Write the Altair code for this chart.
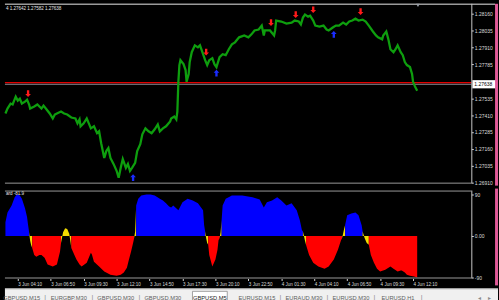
import altair as alt
import pandas as pd

# ------------------------------------------------------------------ data
HEADER_TEXT = "4 1.27642 1.27582 1.27638"
IND_TEXT = "ard -81.9"
BID = 1.27638
ASK = 1.27650

PRICE_TICKS = [1.26910, 1.27035, 1.27160, 1.27285, 1.27410, 1.27535,
               1.27785, 1.27910, 1.28035, 1.28160]
TIME_LABELS = ["3 Jun 04:10", "3 Jun 06:50", "3 Jun 09:30", "3 Jun 12:10",
               "3 Jun 14:50", "3 Jun 17:30", "3 Jun 20:10", "3 Jun 22:50",
               "4 Jun 01:30", "4 Jun 04:10", "4 Jun 06:50", "4 Jun 09:30",
               "4 Jun 12:10"]
FIRST_BAR = "3 Jun 03:10"      # time of bar 0 (M5 bars)
BAR_MINUTES = 5
IND_TICKS = [-90, 0, 90]
IND_TICK_LABELS = ["-90", "0.00", "90"]

PRICE_BARS = [0, 2, 5, 7, 10, 12, 14, 16, 19, 21, 23, 24, 28, 31, 35, 37, 40,
              43, 46, 48, 50, 54, 57, 60, 64, 68, 70, 72, 73, 76, 79, 81, 83,
              86, 89, 91, 93, 96, 98, 100, 102, 105, 108, 110, 112, 114, 117,
              119, 121, 123, 126, 128, 131, 133, 136, 139, 142, 145, 148, 150,
              153, 156, 160, 161, 164, 166, 167, 168, 169, 170, 173, 175, 176,
              178, 179, 181, 184, 187, 189, 192, 194, 196, 198, 201, 203, 205,
              208, 211, 214, 217, 220, 223, 227, 232, 236, 239, 242, 246, 249,
              251, 252, 257, 261, 262, 263, 268, 273, 278, 281, 285, 287, 289,
              291, 294, 296, 299, 301, 305, 309, 312, 314, 318, 321, 324, 328,
              331, 334, 337, 340, 343, 347, 350, 353, 357, 360, 362, 366, 367,
              370, 372, 374, 377, 379, 381, 384, 386, 388, 390, 393, 395, 396,
              398, 400]
PRICES = [1.27422, 1.27458, 1.27495, 1.27488, 1.27546, 1.27517, 1.27531,
          1.27495, 1.27509, 1.27524, 1.27488, 1.27458, 1.27473, 1.27488,
          1.27458, 1.27480, 1.27451, 1.27422, 1.27385, 1.27414, 1.27422,
          1.27436, 1.27422, 1.27414, 1.27392, 1.27385, 1.27349, 1.27378,
          1.27327, 1.27349, 1.27385, 1.27349, 1.27312, 1.27327, 1.27276,
          1.27290, 1.27202, 1.27093, 1.27144, 1.27166, 1.27093, 1.27049,
          1.26998, 1.26947, 1.27020, 1.27085, 1.27020, 1.27049, 1.26998,
          1.27020, 1.27056, 1.27144, 1.27195, 1.27268, 1.27312, 1.27290,
          1.27276, 1.27305, 1.27341, 1.27290, 1.27312, 1.27327, 1.27363,
          1.27385, 1.27400, 1.27378, 1.27436, 1.27656, 1.27780, 1.27816,
          1.27787, 1.27743, 1.27656, 1.27714, 1.27802, 1.27875, 1.27926,
          1.27911, 1.27926, 1.27860, 1.27816, 1.27780, 1.27816, 1.27831,
          1.27787, 1.27765, 1.27838, 1.27860, 1.27853, 1.27897, 1.27933,
          1.27948, 1.27985, 1.27999, 1.27985, 1.28007, 1.28036, 1.28043,
          1.28072, 1.27999, 1.28036, 1.28036, 1.27999, 1.28036, 1.28109,
          1.28102, 1.28087, 1.28094, 1.28109, 1.28102, 1.28080, 1.28131,
          1.28153, 1.28138, 1.28145, 1.28109, 1.28072, 1.28065, 1.28072,
          1.28043, 1.28036, 1.28058, 1.28072, 1.28072, 1.28094, 1.28080,
          1.28102, 1.28109, 1.28123, 1.28109, 1.28116, 1.28102, 1.28072,
          1.28028, 1.27999, 1.27985, 1.27970, 1.27999, 1.28028, 1.27970,
          1.27897, 1.27875, 1.27897, 1.27926, 1.27875, 1.27853, 1.27802,
          1.27780, 1.27765, 1.27714, 1.27656, 1.27619, 1.27590]

SELL_BARS = [22, 195, 258, 282, 299, 345]
SELL_PRICES = [1.27568, 1.27875, 1.28094, 1.28153, 1.28189, 1.28175]
BUY_BARS = [124, 205, 319]
BUY_PRICES = [1.26947, 1.27721, 1.28007]

HIST_BARS = [0, 2, 6, 9, 11, 14, 16, 19, 21, 22,
             23, 24, 25,
             26, 28, 30, 33, 35, 38, 41, 46, 50, 53,
             54, 56, 58, 60, 62, 63,
             64, 67, 69, 72, 74, 79, 83, 84, 86, 91, 96, 102, 108, 112, 115, 118, 120, 122, 124,
             125, 126,
             127, 129, 132, 137, 141, 145, 150, 153, 156, 159, 161, 163, 168, 172, 177, 182, 187, 192, 193,
             194, 195, 196,
             197, 198, 201, 204, 206, 207,
             208, 209,
             210, 211, 214, 220, 230, 240, 247, 251, 254, 259, 264, 268, 273, 278, 283, 286, 288,
             289, 290, 291,
             292, 295, 299, 304, 310, 314, 319, 323, 326,
             327, 328, 329,
             330, 332, 336, 340, 343, 346,
             347, 349, 351,
             353, 355, 358, 361, 364, 369, 374, 377, 381, 384, 385, 388, 390, 393, 397, 400]
HIST_VALUES = [30, 51, 66, 84, 90, 88, 81, 60, 41, 24,
               8, -10, -20,
               -26, -41, -45, -41, -41, -47, -62, -66, -62, -34,
               -15, 8, 17, 15, 5, -10,
               -26, -41, -51, -62, -66, -58, -36, -40, -56, -66, -77, -84, -86, -84, -79, -69, -51, -34, -15,
               -5, 10,
               66, 81, 88, 90, 90, 88, 81, 77, 71, 64, 62, 66, 56, 73, 81, 77, 71, 56, 24,
               10, -5, -15,
               -19, -41, -66, -51, -30, -9,
               -5, 8,
               34, 66, 81, 88, 88, 84, 79, 62, 73, 77, 84, 77, 66, 71, 56, 34, 13,
               10, 0, -10,
               -19, -41, -58, -66, -71, -66, -51, -30, -9,
               -5, 5, 15,
               24, 45, 49, 51, 45, 24,
               10, -5, -15,
               -19, -41, -58, -71, -77, -73, -66, -71, -77, -75, -75, -79, -84, -86, -88, -90]
HIST_STATE = (["up"] * 10 + ["flat"] * 3 + ["down"] * 10 + ["flat"] * 6 +
              ["down"] * 19 + ["flat"] * 2 + ["up"] * 19 + ["flat"] * 3 +
              ["down"] * 6 + ["flat"] * 2 + ["up"] * 17 + ["flat"] * 3 +
              ["down"] * 9 + ["flat"] * 3 + ["up"] * 6 + ["flat"] * 3 +
              ["down"] * 16)

TABS = ["GBPUSD,M15", "EURGBP,M30", "GBPUSD,M30", "GBPUSD,M30", "GBPUSD,M5",
        "EURUSD,M15", "EURAUD,M30", "EURUSD,M30", "EURUSD,H1"]
ACTIVE_TAB = 4

# ------------------------------------------------------------------ style
FONT = "Liberation Sans"
GREEN = "#0e9e0e"
STATE_COLORS = {"up": "#0000ff", "down": "#ff0000", "flat": "#f2dc00"}
BORDER = "#9a9a9a"
W = 472
H_MAIN = 182
H_IND = 89
X_DOMAIN = [-0.48, 452.6]


def bar_of(label):
    d, _, hm = label.split(" ")
    h, m = hm.split(":")
    return int(d) * 1440 + int(h) * 60 + int(m)


base = bar_of(FIRST_BAR)
TIME_BARS = [(bar_of(t) - base) // BAR_MINUTES for t in TIME_LABELS]

axis_style = dict(domain=False, grid=False, tickColor="#d8d8d8", tickSize=2,
                  labelColor="#dcdcdc", labelFont=FONT, labelFontSize=5,
                  labelPadding=1, title=None, labelOverlap=False,
                  labelFlush=False)

x_main = alt.X("bar:Q", scale=alt.Scale(domain=X_DOMAIN, nice=False, zero=False), axis=None)
y_main = alt.Y("price:Q",
               scale=alt.Scale(domain=[1.26903, 1.28233], nice=False, zero=False),
               axis=alt.Axis(orient="right", values=PRICE_TICKS, format=".5f", **axis_style))

DOWN_ARROW = "M-0.35,-1L0.35,-1L0.35,0.1L0.85,0.1L0,1L-0.85,0.1L-0.35,0.1Z"
UP_ARROW = "M-0.35,1L0.35,1L0.35,-0.1L0.85,-0.1L0,-1L-0.85,-0.1L-0.35,-0.1Z"
LABEL_BOX = "M-1,-0.32L1,-0.32L1,0.32L-1,0.32Z"

one = pd.DataFrame({"k": [0]})

price_df = pd.DataFrame({"bar": PRICE_BARS, "price": PRICES})
sell_df = pd.DataFrame({"bar": SELL_BARS, "price": SELL_PRICES})
buy_df = pd.DataFrame({"bar": BUY_BARS, "price": BUY_PRICES})
lines_df = pd.DataFrame({"price": [BID, ASK], "c": ["#8a8f9a", "#e00000"]})
bid_df = pd.DataFrame({"price": [BID]})
head_df = pd.DataFrame({"t": [HEADER_TEXT]})

price_line = alt.Chart(price_df).mark_line(color=GREEN, strokeWidth=2.3).encode(x=x_main, y=y_main)
price_rules = alt.Chart(lines_df).mark_rule(strokeWidth=1.2).encode(
    y=y_main, color=alt.Color("c:N", scale=None))
sells = alt.Chart(sell_df).mark_point(shape=DOWN_ARROW, filled=True, size=46,
                                      color="#ff1a1a", opacity=1).encode(x=x_main, y=y_main)
buys = alt.Chart(buy_df).mark_point(shape=UP_ARROW, filled=True, size=46,
                                    color="#1a2cff", opacity=1).encode(x=x_main, y=y_main)
bid_box = alt.Chart(bid_df).mark_point(shape=LABEL_BOX, filled=True, size=676,
                                       color="#ffffff", opacity=1).encode(
    x=alt.value(486), y=y_main)
bid_text = alt.Chart(bid_df).mark_text(align="left", baseline="middle", fontSize=5,
                                       font=FONT, color="#000000").encode(
    x=alt.value(475), y=y_main, text=alt.Text("price:Q", format=".5f"))
header = alt.Chart(head_df).mark_text(align="left", baseline="middle", fontSize=4.6,
                                      font=FONT, color="#e8e8e8").encode(
    x=alt.value(1), y=alt.value(5), text="t:N")
main_deco = [
    alt.Chart(one).mark_rule(color=BORDER, strokeWidth=1.5).encode(
        x=alt.value(0), x2=alt.value(496), y=alt.value(0.5)),
    alt.Chart(one).mark_rule(color=BORDER, strokeWidth=1).encode(
        x=alt.value(0), x2=alt.value(W), y=alt.value(H_MAIN - 0.5)),
    alt.Chart(one).mark_rule(color="#c8c8c8", strokeWidth=1).encode(
        x=alt.value(W + 0.5), y=alt.value(0), y2=alt.value(H_MAIN)),
    alt.Chart(one).mark_rect(color="#e05a98").encode(
        x=alt.value(496), x2=alt.value(499), y=alt.value(0), y2=alt.value(H_MAIN + 2)),
]
shift_marker = alt.Chart(one).mark_point(shape="triangle-down", filled=True, size=14,
                                         color="#9aa0a8", opacity=1).encode(
    x=alt.value(418), y=alt.value(1.5))

main = alt.layer(price_rules, price_line, sells, buys, bid_box, bid_text, header,
                 *main_deco, shift_marker).properties(width=W, height=H_MAIN)

# ------------------------------------------------------------------ indicator
rows = []
n = len(HIST_BARS)
runs = []
start = 0
for i in range(1, n + 1):
    if i == n or HIST_STATE[i] != HIST_STATE[start]:
        runs.append((start, i))
        start = i
for s, (a, b) in enumerate(runs):
    idx = list(range(a, b))
    if b < n:
        idx.append(b)  # join to next run so the areas touch
    for j in idx:
        rows.append({"seg": s, "col": STATE_COLORS[HIST_STATE[a]],
                     "bar": HIST_BARS[j], "value": HIST_VALUES[j]})
hist_df = pd.DataFrame(rows)

x_ind = alt.X("bar:Q", scale=alt.Scale(domain=X_DOMAIN, nice=False, zero=False),
              axis=alt.Axis(orient="bottom", values=TIME_BARS,
                            labelExpr="%s[indexof(%s, datum.value)]" % (TIME_LABELS, TIME_BARS),
                            labelAlign="left", labelBaseline="top",
                            **{**axis_style, "labelFontSize": 4.6}))
y_ind = alt.Y("value:Q", scale=alt.Scale(domain=[-92.1, 98.6], nice=False, zero=False),
              axis=alt.Axis(orient="right", values=IND_TICKS,
                            labelExpr="%s[indexof(%s, datum.value)]" % (IND_TICK_LABELS, IND_TICKS),
                            **axis_style))

hist = alt.Chart(hist_df).mark_area(interpolate="linear").encode(
    x=x_ind, y=y_ind, y2=alt.datum(0), color=alt.Color("col:N", scale=None), detail="seg:N")
ind_label = alt.Chart(pd.DataFrame({"t": [IND_TEXT]})).mark_text(
    align="left", baseline="middle", fontSize=4.6, font=FONT, color="#e8e8e8").encode(
    x=alt.value(1), y=alt.value(4), text="t:N")
ind_deco = [
    alt.Chart(one).mark_rule(color=BORDER, strokeWidth=1).encode(
        x=alt.value(0), x2=alt.value(W), y=alt.value(0.5)),
    alt.Chart(one).mark_rule(color=BORDER, strokeWidth=1).encode(
        x=alt.value(0), x2=alt.value(W), y=alt.value(H_IND - 0.5)),
    alt.Chart(one).mark_rule(color="#c8c8c8", strokeWidth=1).encode(
        x=alt.value(W + 0.5), y=alt.value(0), y2=alt.value(H_IND)),
    alt.Chart(one).mark_rect(color="#e05a98").encode(
        x=alt.value(496), x2=alt.value(499), y=alt.value(-2), y2=alt.value(H_IND + 7)),
]
ind = alt.layer(hist, ind_label, *ind_deco).properties(width=W, height=H_IND)

# ------------------------------------------------------------------ tabs
tab_df = pd.DataFrame({"i": list(range(len(TABS))), "tab": TABS,
                       "active": [i == ACTIVE_TAB for i in range(len(TABS))]})
tab_x = alt.X("i:O", scale=alt.Scale(domain=list(range(len(TABS))), range=[-6.8, 421.6],
                                     paddingInner=0, paddingOuter=0), axis=None)
tab_box = alt.Chart(tab_df).transform_filter("datum.active").mark_bar(
    width=alt.RelativeBandSize(0.74), color="#ffffff", stroke="#8a8a8a", strokeWidth=0.8).encode(
    x=tab_x, y=alt.value(3), y2=alt.value(16))
tab_text = alt.Chart(tab_df).mark_text(fontSize=5.8, font=FONT, baseline="middle").encode(
    x=tab_x, y=alt.value(10), text="tab:N",
    color=alt.condition("datum.active", alt.value("#1a1a1a"), alt.value("#5e5e5e")))
tab_sep = alt.Chart(tab_df).transform_filter(
    "datum.i != %d && datum.i != %d" % (ACTIVE_TAB - 1, ACTIVE_TAB)).mark_text(
    text="|", dx=23.8, fontSize=7, font=FONT, color="#8a8a8a", baseline="middle").encode(
    x=tab_x, y=alt.value(10))
tab_top = alt.Chart(one).mark_rule(color="#b4b4b4", strokeWidth=1).encode(
    x=alt.value(0), x2=alt.value(499), y=alt.value(0.5))
scroll_l = alt.Chart(one).mark_text(text="◂", fontSize=6, color="#8a8a8a", baseline="middle").encode(
    x=alt.value(480), y=alt.value(10))
scroll_r = alt.Chart(one).mark_text(text="▸", fontSize=6, color="#8a8a8a", baseline="middle").encode(
    x=alt.value(490), y=alt.value(10))
tabs = alt.layer(tab_top, tab_box, tab_text, tab_sep, scroll_l, scroll_r).properties(
    width=499, height=17, view=alt.ViewBackground(fill="#f0f0f0", strokeWidth=0))

chart = alt.vconcat(main, ind, tabs, spacing=2).configure(
    background="#000000", padding={"left": 0, "top": 1, "right": 0, "bottom": 0}
).configure_view(strokeWidth=0)

chart.save("out.html", embed_options={"renderer": "svg", "actions": False})
